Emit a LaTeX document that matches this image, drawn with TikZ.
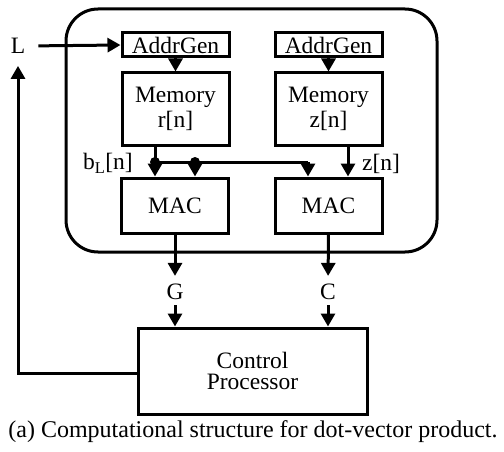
\documentclass[tikz,border=0pt]{standalone}
\usepackage{fontspec}
\setmainfont{Liberation Serif}
\usetikzlibrary{arrows.meta,calc}
\begin{document}
\begin{tikzpicture}[x=1pt,y=-1pt,
  lw/.style={line width=3pt},
  blk/.style={draw,lw,rectangle,inner sep=0pt,minimum width=107pt,align=center,font=\fontsize{23.5}{24}\selectfont},
  lbl/.style={inner sep=0pt,font=\fontsize{23.5}{24}\selectfont},
  arr/.style={lw,-{Triangle[length=13pt,width=14pt]}},
  wire/.style={lw},
  jdot/.style={circle,fill,inner sep=0pt,minimum size=10pt}]
\useasboundingbox (0,0) rectangle (504,452);
% outer rounded region
\draw[lw,rounded corners=32pt] (66,9) rectangle (437,252);
% blocks
\node[blk,minimum height=24pt] (ag1) at (175.5,45) {AddrGen};
\node[blk,minimum height=24pt] (ag2) at (328.5,45) {AddrGen};
\node[blk,minimum height=72pt] (mem1) at (175.5,109) {Memory\\[1pt]r[n]};
\node[blk,minimum height=72pt] (mem2) at (328.5,109) {Memory\\[1pt]z[n]};
\node[blk,minimum height=55pt] (mac1) at (175,205.5) {MAC};
\node[blk,minimum height=55pt] (mac2) at (328.5,205.5) {MAC};
\node[blk,minimum width=229pt,minimum height=86pt,font=\fontsize{23.5}{21.5}\selectfont] (ctrl) at (252.5,371) {Control\\Processor};
% labels
\node[lbl] (L) at (18,46) {L};
\node[lbl,anchor=east] (bl) at (133,163) {b$_{\mathrm{L}}$[n]};
\node[lbl,anchor=west] (zl) at (362,164) {z[n]};
\node[lbl] (G) at (175,292) {G};
\node[lbl] (C) at (328,292) {C};
\node[font=\fontsize{24}{24}\selectfont,inner sep=0pt] (cap) at (253,432) {(a) Computational structure for dot-vector product.};
% junctions
\coordinate (tapA) at (155,162);
\coordinate (tapB) at (195,162);
\coordinate (tapC) at (308,162);
\coordinate (zx) at (348,0);
\node[jdot] (d1) at (tapA) {};
\node[jdot] (d2) at (tapB) {};
% connectors
\draw[arr,shorten <=13pt] (L.east) -- (ag1.west);
\draw[arr] (ag1.south) -- (mem1.north);
\draw[arr] (ag2.south) -- (mem2.north);
\draw[arr] (mem1.south -| d1) -- (mac1.north -| d1);
\draw[arr] (d2.center) -- (mac1.north -| d2);
\draw[wire] (d1.center) -- (tapC);
\draw[arr] (tapC) -- (mac2.north -| tapC);
\draw[arr] (mem2.south -| zx) -- (mac2.north -| zx);
\draw[arr,shorten >=8pt] (mac1.south) -- (G.north);
\draw[arr,shorten >=8pt] (mac2.south) -- (C.north);
\draw[arr,shorten <=5pt] (G.south) -- (ctrl.north -| G);
\draw[arr,shorten <=5pt] (C.south) -- (ctrl.north -| C);
\draw[arr,shorten >=12pt] (ctrl.west |- 0,373) -| (L.south);
\end{tikzpicture}
\end{document}
